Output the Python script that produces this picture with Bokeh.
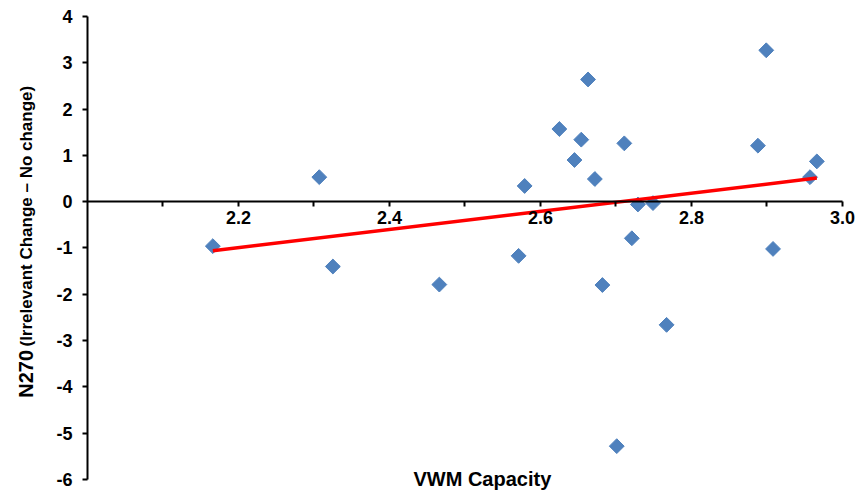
import math
from bokeh.plotting import figure
from bokeh.models import (Range1d, FixedTicker, Label, NumeralTickFormatter,
                          ColumnDataSource, LinearAxis)
from bokeh.embed import file_html
from bokeh.resources import INLINE

# ---- data ----
vwm = [2.166, 2.307, 2.325, 2.466, 2.571, 2.579, 2.625, 2.645, 2.654, 2.663,
       2.672, 2.682, 2.701, 2.711, 2.721, 2.729, 2.749, 2.767, 2.888, 2.899,
       2.908, 2.957, 2.966]
n270 = [-0.96, 0.53, -1.40, -1.79, -1.17, 0.34, 1.57, 0.90, 1.34, 2.64,
        0.49, -1.80, -5.28, 1.26, -0.79, -0.06, -0.03, -2.66, 1.21, 3.27,
        -1.02, 0.53, 0.87]
trend_x = [2.166, 2.966]
trend_y = [-1.06, 0.51]

x_major_ticks = [2.2, 2.4, 2.6, 2.8, 3.0]
x_minor_ticks = [2.1, 2.3, 2.5, 2.7, 2.9]
y_ticks = [-6, -5, -4, -3, -2, -1, 0, 1, 2, 3, 4]

x_title = "VWM Capacity"
y_title_main = "N270"
y_title_rest = "(Irrelevant Change \u2013 No change)"

FONT = "Liberation Sans"

p = figure(width=855, height=490, output_backend="svg", toolbar_location=None,
           x_range=Range1d(1.88477, 3.01722), y_range=Range1d(-6.2376, 4.34557),
           x_axis_location=None, y_axis_location=None,
           min_border_left=0, min_border_right=0, min_border_top=0,
           min_border_bottom=0)
p.outline_line_color = None
p.grid.visible = False
p.background_fill_color = "white"

# x axis crossing at y = 0
xa = LinearAxis(fixed_location=0)
xa.ticker = FixedTicker(ticks=x_major_ticks, minor_ticks=x_minor_ticks)
xa.formatter = NumeralTickFormatter(format="0.0")
xa.bounds = (2.0, 3.0)
xa.axis_line_width = 2
xa.axis_line_color = "black"
xa.major_tick_line_width = 2
xa.minor_tick_line_width = 2
xa.major_tick_in = 0
xa.major_tick_out = 5
xa.minor_tick_in = 0
xa.minor_tick_out = 5
xa.major_label_standoff = 4
xa.major_label_text_font = FONT
xa.major_label_text_font_style = "bold"
xa.major_label_text_font_size = "18px"
xa.major_label_text_color = "black"
p.add_layout(xa, "below")

# y axis at x = 2.0
ya = LinearAxis(fixed_location=2.0)
ya.ticker = FixedTicker(ticks=y_ticks, minor_ticks=[])
ya.major_label_overrides = {t: str(t) for t in y_ticks}
ya.bounds = (-6, 4)
ya.axis_line_width = 2
ya.axis_line_color = "black"
ya.major_tick_line_width = 2
ya.major_tick_in = 0
ya.major_tick_out = 5
ya.minor_tick_out = 0
ya.minor_tick_in = 0
ya.major_label_standoff = 10
ya.major_label_text_font = FONT
ya.major_label_text_font_style = "bold"
ya.major_label_text_font_size = "18px"
ya.major_label_text_color = "black"
p.add_layout(ya, "left")

src = ColumnDataSource(dict(x=vwm, y=n270))
p.scatter("x", "y", source=src, marker="square", angle=math.pi / 4, size=10.5,
          fill_color="#4F81BD", line_color="#4F81BD")
p.line(trend_x, trend_y, line_color="#FF0000", line_width=3.5)

# axis titles
p.add_layout(Label(x=2.523, y=-6.0, text=x_title, text_align="center",
                   text_baseline="alphabetic", text_font=FONT,
                   text_font_style="bold", text_font_size="20px",
                   text_color="black"))
p.add_layout(Label(x=1.9192, y=-4.234, text=y_title_main, angle=math.pi / 2,
                   text_align="left", text_baseline="alphabetic", text_font=FONT,
                   text_font_style="bold", text_font_size="20px",
                   text_color="black"))
p.add_layout(Label(x=1.9192, y=-3.128, text=y_title_rest, angle=math.pi / 2,
                   text_align="left", text_baseline="alphabetic", text_font=FONT,
                   text_font_style="bold", text_font_size="17px",
                   text_color="black"))

open("out.html", "w").write(file_html(p, INLINE))
